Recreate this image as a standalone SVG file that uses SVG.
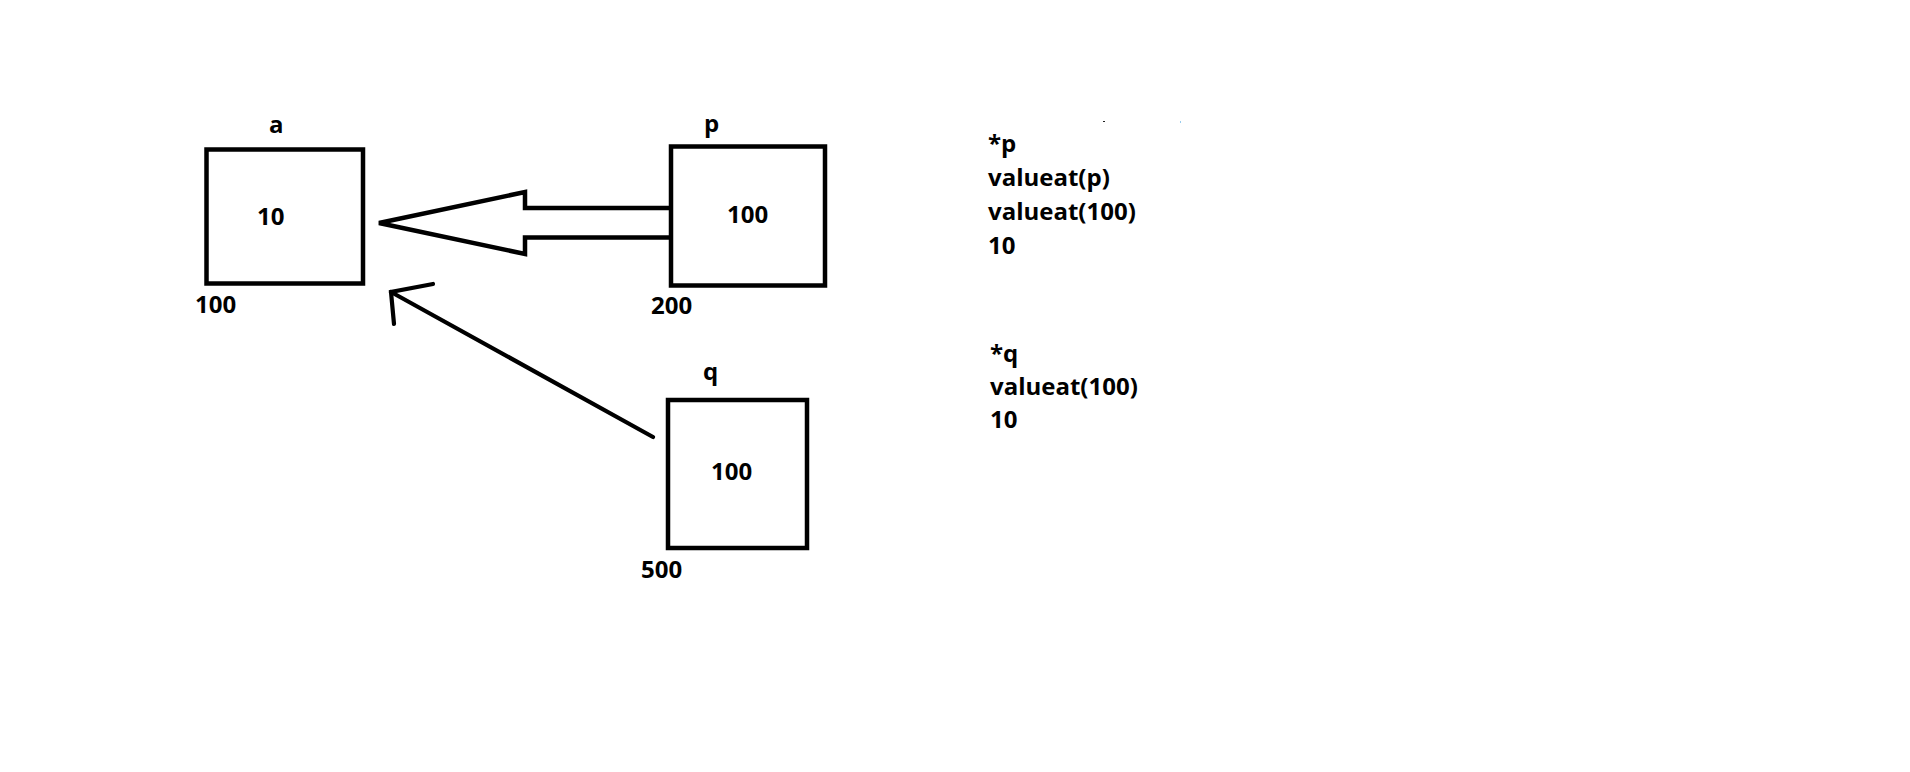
<svg xmlns="http://www.w3.org/2000/svg" width="1910" height="772" viewBox="0 0 1910 772">
  <defs>
    <style>
      .box { fill: #ffffff; stroke: #000000; stroke-width: 4.5; }
      .edge { fill: none; stroke: #000000; stroke-width: 4.5; stroke-linejoin: miter; }
      .thin { fill: none; stroke: #000000; stroke-width: 4.2; stroke-linecap: round; stroke-linejoin: miter; }
      text { font-family: "Open Sans", "Noto Sans", "Liberation Sans", sans-serif; font-weight: bold; font-size: 24px; fill: #000000; }
    </style>
  </defs>
  <rect width="1910" height="772" fill="#ffffff"/>

  <!-- variable a, stored at address 100 -->
  <g id="node-a">
    <rect class="box" x="206.5" y="149.5" width="156.5" height="134"/>
    <text x="269" y="133">a</text>
    <text x="257" y="225">10</text>
    <text x="195" y="313">100</text>
  </g>

  <!-- pointer p, stored at address 200 -->
  <g id="node-p">
    <rect class="box" x="671" y="146.5" width="154" height="139"/>
    <text x="704" y="132">p</text>
    <text x="727" y="223">100</text>
    <text x="651" y="314">200</text>
  </g>

  <!-- pointer q, stored at address 500 -->
  <g id="node-q">
    <rect class="box" x="668" y="400" width="139" height="148"/>
    <text x="703" y="380">q</text>
    <text x="711" y="480">100</text>
    <text x="641" y="578">500</text>
  </g>

  <!-- connectors: both pointers refer to a -->
  <g id="connectors">
    <polyline class="edge" points="673,208 525,208 525,192 379,223 525,254 525,237.5 673,237.5"/>
    <line class="thin" x1="653" y1="437" x2="391" y2="292"/>
    <polyline class="thin" points="433,284 391,292 394,324"/>
  </g>

  <!-- dereference notes -->
  <g id="notes">
    <text x="988" y="152">*p</text>
    <text x="988" y="186">valueat(p)</text>
    <text x="988" y="220">valueat(100)</text>
    <text x="988" y="254">10</text>
    <text x="990" y="362">*q</text>
    <text x="990" y="395">valueat(100)</text>
    <text x="990" y="428">10</text>
    <rect x="1103" y="121" width="2" height="1" fill="#222222"/>
    <rect x="1180" y="121" width="1" height="2" fill="#99ccee"/>
  </g>
</svg>
